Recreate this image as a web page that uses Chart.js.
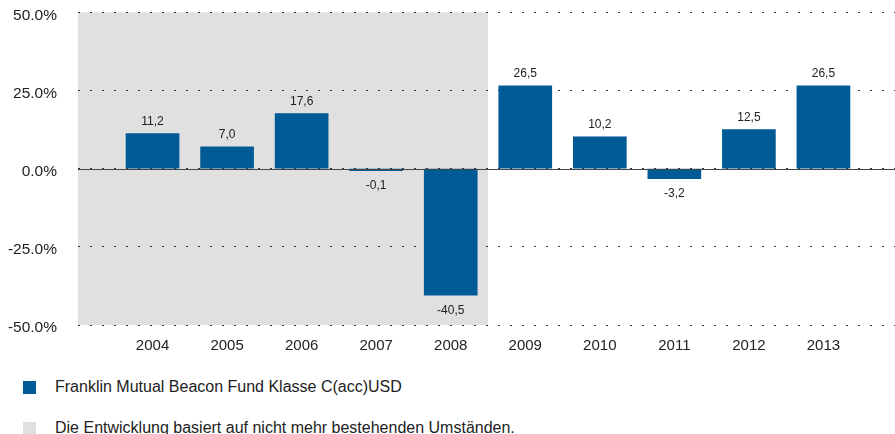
<!DOCTYPE html>
<html>
<head>
<meta charset="utf-8">
<script src="https://cdn.jsdelivr.net/npm/chart.js@4"></script>
<style>
  body { margin: 0; background: #fff; font-family: "Liberation Sans", Arial, sans-serif; }
  #wrap { position: relative; width: 895px; height: 434px; overflow: hidden; }
  #chart-box { position: absolute; left: 0; top: -18px; width: 895px; height: 378px; }
  .leg { position: absolute; left: 23px; font-size: 16px; color: #222; white-space: nowrap; }
  .leg span.sq { position: absolute; left: 0; top: 3px; width: 13px; height: 13px; }
  .leg span.txt { position: absolute; left: 32px; top: 0; line-height: 18px; }
</style>
</head>
<body>
<div id="wrap">
  <div id="chart-box"><canvas id="chart"></canvas></div>
  <div class="leg" style="top:378px"><span class="sq" style="background:#005a96"></span><span class="txt">Franklin Mutual Beacon Fund Klasse C(acc)USD</span></div>
  <div class="leg" style="top:419px"><span class="sq" style="background:#e0e0e0"></span><span class="txt">Die Entwicklung basiert auf nicht mehr bestehenden Umständen.</span></div>
</div>
<script>
var years = [2004, 2005, 2006, 2007, 2008, 2009, 2010, 2011, 2012, 2013];
var returns = [11.2, 7.0, 17.6, -0.1, -40.5, 26.5, 10.2, -3.2, 12.5, 26.5];
var yTicks = [-50, -25, 0, 25, 50];
var shadedUntil = 2008.5; // years before this are "nicht mehr bestehende Umstände"

var points = years.map(function (yr, i) { return { x: yr, y: returns[i] }; });

// grey background for the old period, drawn before grid lines
var shadePlugin = {
  id: 'shade',
  beforeDraw: function (chart) {
    var a = chart.chartArea, x = chart.scales.x;
    var ctx = chart.ctx;
    ctx.save();
    ctx.fillStyle = '#e0e0e0';
    ctx.fillRect(a.left, a.top, x.getPixelForValue(shadedUntil) - a.left, a.bottom - a.top);
    ctx.restore();
  }
};

// solid zero line + value labels
var labelPlugin = {
  id: 'labels',
  afterDatasetsDraw: function (chart) {
    var ctx = chart.ctx, a = chart.chartArea;
    var y0 = chart.scales.y.getPixelForValue(0);
    ctx.save();
    ctx.strokeStyle = '#444';
    ctx.lineWidth = 1;
    ctx.beginPath();
    ctx.moveTo(a.left, Math.round(y0) + 0.5);
    ctx.lineTo(a.right, Math.round(y0) + 0.5);
    ctx.stroke();

    ctx.font = '12px "Liberation Sans", Arial, sans-serif';
    ctx.fillStyle = '#222';
    ctx.textAlign = 'center';
    var meta = chart.getDatasetMeta(0);
    meta.data.forEach(function (bar, i) {
      var v = returns[i];
      var txt = v.toFixed(1).replace('.', ',');
      if (v >= 0) {
        ctx.textBaseline = 'bottom';
        ctx.fillText(txt, bar.x, bar.y - 6);
      } else {
        ctx.textBaseline = 'top';
        ctx.fillText(txt, bar.x, bar.y + 9);
      }
    });
    ctx.restore();
  }
};

var ctx = document.getElementById('chart').getContext('2d');
var chart = new Chart(ctx, {
  type: 'bar',
  data: {
    datasets: [{
      label: 'Franklin Mutual Beacon Fund Klasse C(acc)USD',
      data: points,
      backgroundColor: '#005a96',
      borderWidth: 0,
      barThickness: 53,
      minBarLength: 2
    }]
  },
  options: {
    responsive: true,
    maintainAspectRatio: false,
    animation: false,
    layout: { padding: { top: -2, right: 0, left: 0, bottom: 0 } },
    plugins: {
      legend: { display: false },
      tooltip: { enabled: false }
    },
    scales: {
      x: {
        type: 'linear',
        offset: false,
        min: 2003,
        max: 2013.96,
        grid: { display: false },
        border: { display: false },
        afterBuildTicks: function (scale) {
          scale.ticks = years.map(function (v) { return { value: v }; });
        },
        afterFit: function (scale) { scale.height = 35; },
        ticks: {
          autoSkip: false,
          maxRotation: 0,
          padding: 4,
          color: '#222',
          font: { family: '"Liberation Sans", Arial, sans-serif', size: 15 },
          callback: function (v) { return String(v); }
        }
      },
      y: {
        min: -50,
        max: 50,
        afterBuildTicks: function (scale) {
          scale.ticks = yTicks.map(function (v) { return { value: v }; });
        },
        afterFit: function (scale) { scale.width = 78; },
        grid: { color: '#333', lineWidth: 1, drawTicks: false },
        border: { display: false, dash: [2, 10] },
        ticks: {
          padding: 21,
          labelOffset: 3,
          color: '#222',
          font: { family: '"Liberation Sans", Arial, sans-serif', size: 15.5 },
          callback: function (v) { return v.toFixed(1) + '%'; }
        }
      }
    }
  },
  plugins: [shadePlugin, labelPlugin]
});
</script>
</body>
</html>
